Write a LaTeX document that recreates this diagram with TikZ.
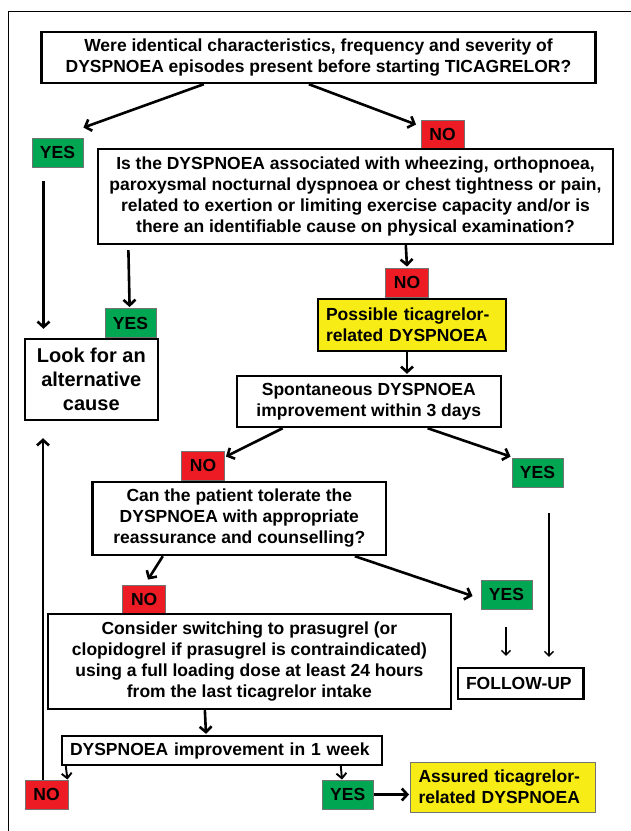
\documentclass[tikz,border=0pt]{standalone}
\usepackage{fontspec}
\setmainfont{Liberation Sans}
\usetikzlibrary{arrows.meta}
\definecolor{ygreen}{RGB}{0,166,81}
\definecolor{nred}{RGB}{237,28,36}
\definecolor{pyellow}{RGB}{248,236,22}
\tikzset{
  txt/.style={font=\bfseries\fontsize{17.5}{21}\selectfont},
  box/.style={txt, draw=black, line width=2.4pt, fill=white, inner sep=0pt, align=center},
  ybox/.style={box, fill=pyellow, align=left},
  yesbox/.style={txt, draw=black!55, line width=0.9pt, fill=ygreen, inner sep=0pt, minimum width=51pt, minimum height=29pt},
  nobox/.style={txt, draw=black!55, line width=0.9pt, fill=nred, inner sep=0pt, minimum width=43pt, minimum height=29pt},
  arr/.style={line width=2.6pt, -{Straight Barb[length=5.5pt,width=12pt]}},
  midarr/.style={line width=1.9pt, -{Straight Barb[length=5pt,width=10pt]}},
  thinarr/.style={line width=1.3pt, -{Straight Barb[length=4.5pt,width=9pt]}},
}
\begin{document}
\begin{tikzpicture}[x=1pt,y=-1pt]
\useasboundingbox (0,0) rectangle (631,831);
\draw[line width=1pt] (8,831) -- (8,11) -- (631,11);

\node[box, minimum width=554pt, minimum height=51pt] (b1) at (318.5,57.5)
  {Were identical characteristics, frequency and severity of\\DYSPNOEA episodes present before starting TICAGRELOR?};
\node[yesbox] (yes1) at (57.5,152.5) {YES};
\node[nobox] (no1) at (442.5,134.5) {NO};
\node[box, minimum width=515pt, minimum height=95pt] (b2) at (355.5,196.5)
  {Is the DYSPNOEA associated with wheezing, orthopnoea,\\paroxysmal nocturnal dyspnoea or chest tightness or pain,\\related to exertion or limiting exercise capacity and/or is\\there an identifiable cause on physical examination?};
\node[yesbox] (yes2) at (130.5,323) {YES};
\node[box, font=\bfseries\fontsize{20}{24}\selectfont, minimum width=133pt, minimum height=81pt] (look) at (91.3,379.5)
  {Look for an\\alternative\\cause};
\node[nobox] (no2) at (407,282.5) {NO};
\node[ybox, minimum width=188pt, minimum height=52pt, text width=172pt] (poss) at (412,325)
  {Possible ticagrelor-\\related DYSPNOEA};
\node[box, minimum width=264pt, minimum height=51pt] (spont) at (368.8,401.5)
  {Spontaneous DYSPNOEA\\improvement within 3 days};
\node[nobox] (no3) at (203,465.5) {NO};
\node[yesbox] (yes3) at (537.5,472.5) {YES};
\node[box, minimum width=293.4pt, minimum height=73pt] (tol) at (239.3,518.5)
  {Can the patient tolerate the\\DYSPNOEA with appropriate\\reassurance and counselling?};
\node[nobox, minimum height=28pt] (no4) at (144.2,599) {NO};
\node[yesbox] (yes4) at (506.5,594.5) {YES};
\node[box, minimum width=402.7pt, minimum height=95pt] (cons) at (249.4,661.5)
  {Consider switching to prasugrel (or\\clopidogrel if prasugrel is contraindicated)\\using a full loading dose at least 24 hours\\from the last ticagrelor intake};
\node[box, align=left, minimum width=125.5pt, minimum height=31pt, text width=109.5pt] (fu) at (520.8,683.5) {FOLLOW-UP};
\node[box, align=left, minimum width=320pt, minimum height=29pt, text width=304pt] (imp) at (222,750.5)
  {DYSPNOEA improvement in 1 week};
\node[nobox] (no5) at (46.5,794.5) {NO};
\node[yesbox] (yes5) at (347.7,794.5) {YES};
\node[ybox, draw=black!55, line width=0.9pt, minimum width=185pt, minimum height=50pt, text width=169pt] (ass) at (503,787)
  {Assured ticagrelor-\\related DYSPNOEA};

\draw[arr] ([xshift=163.5pt]b1.south west) -- ([yshift=10pt]yes1.north east);
\draw[arr] ([xshift=268.5pt]b1.south west) -- ([xshift=-4.5pt,yshift=-5pt]no1.north west);
\draw[arr] ([xshift=-14pt,yshift=-14pt]yes1.south) -- ([xshift=-47.8pt,yshift=9pt]look.north);
\draw[arr] ([xshift=31.6pt,yshift=-5pt]b2.south west) -- ([xshift=-0.9pt,yshift=1pt]yes2.north);
\draw[arr] ([xshift=309pt]b2.south west) -- ([yshift=1pt]no2.north);
\draw[arr] ([xshift=-5pt]poss.south) -- ([xshift=38.2pt,yshift=1pt]spont.north);
\draw[arr] ([xshift=47.1pt]spont.south west) -- ([xshift=1pt,yshift=-6pt]no3.north east);
\draw[arr] ([xshift=192pt]spont.south west) -- ([xshift=-1pt,yshift=1pt]yes3.north west);
\draw[thinarr] ([xshift=11.5pt,yshift=-26pt]yes3.south) -- ([xshift=28.2pt,yshift=10pt]fu.north);
\draw[arr] ([xshift=71.4pt]tol.south west) -- ([xshift=3.8pt,yshift=5pt]no4.north);
\draw[arr] ([xshift=263.4pt]tol.south west) -- ([xshift=-8pt,yshift=-1.5pt]yes4.west);
\draw[thinarr] ([xshift=-0.5pt,yshift=-18pt]yes4.south) -- ([xshift=-14.8pt,yshift=11pt]fu.north);
\draw[arr] ([xshift=158pt]cons.south west) -- ([xshift=-16pt,yshift=1pt]imp.north);
\draw[midarr] ([xshift=5pt]imp.south west) -- ([xshift=-1pt]no5.north east);
\draw[midarr] ([xshift=280pt]imp.south west) -- ([xshift=-5.7pt]yes5.north);
\draw[arr] (yes5.east) -- ([xshift=-1pt,yshift=-7.5pt]ass.west);
\draw[arr] ([xshift=-3.5pt]no5.north) -- ([xshift=-48.3pt,yshift=-17pt]look.south);
\end{tikzpicture}
\end{document}
